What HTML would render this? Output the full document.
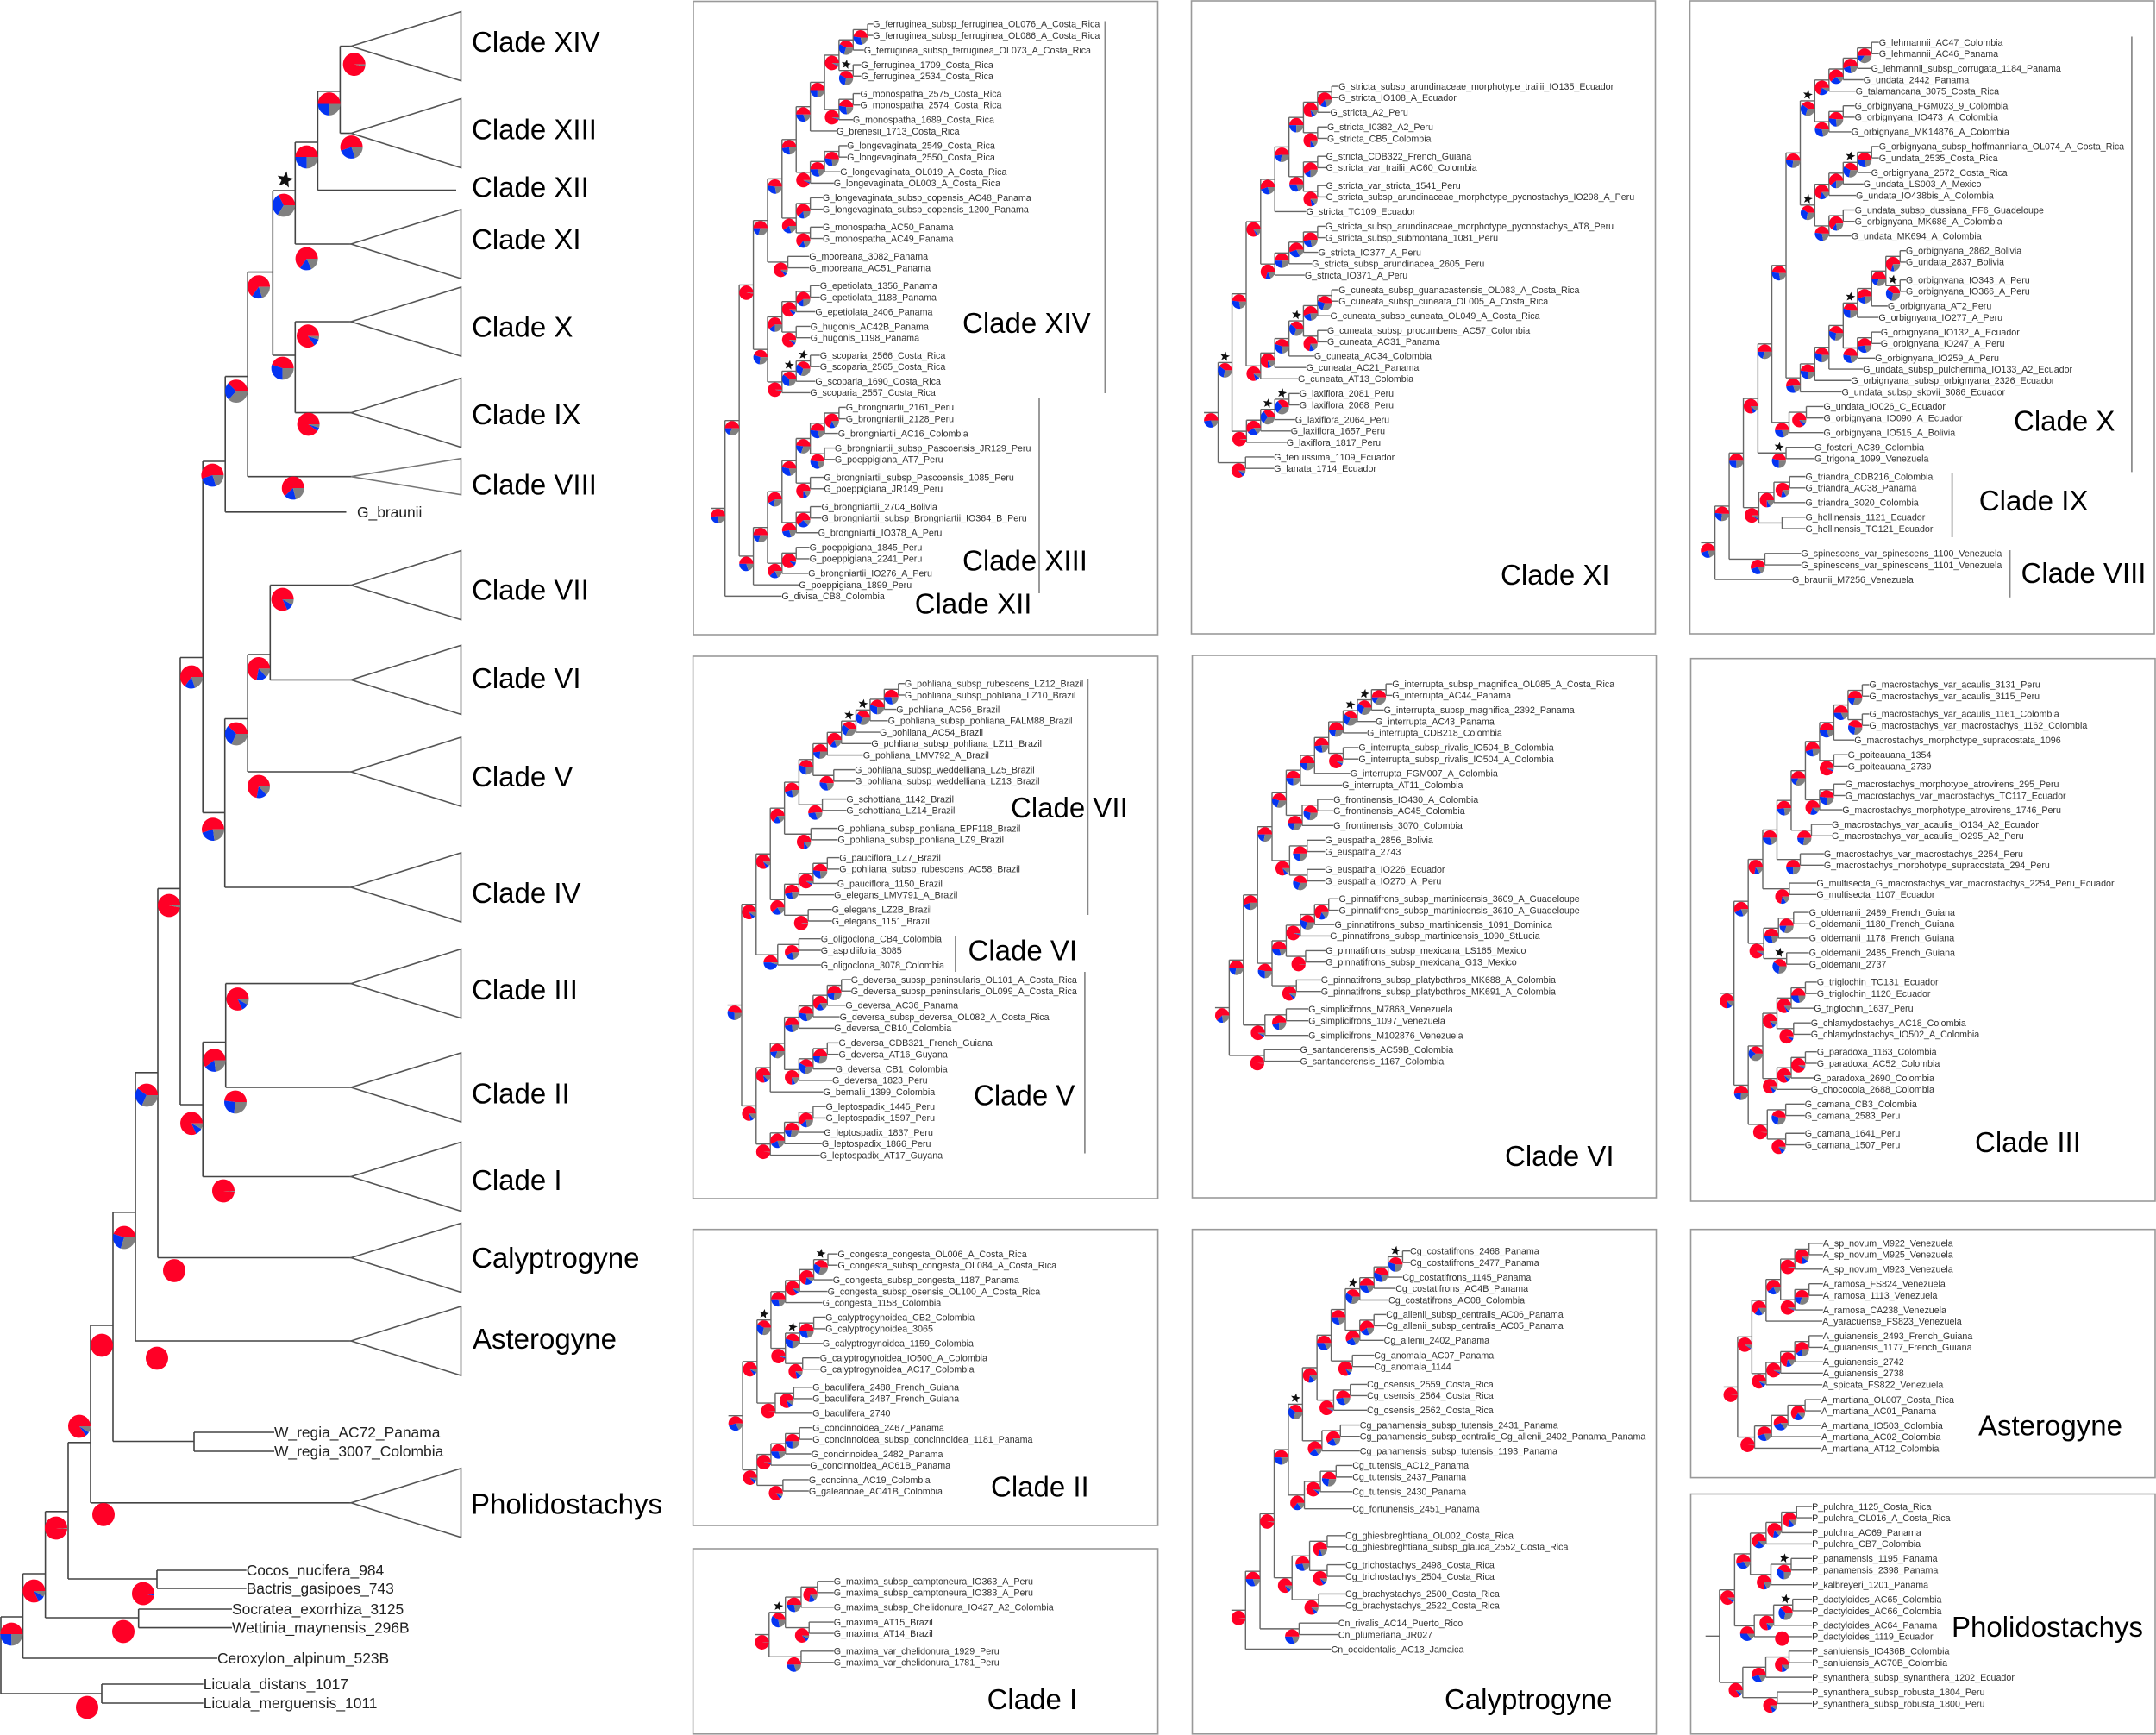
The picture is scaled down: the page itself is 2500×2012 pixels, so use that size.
<!DOCTYPE html>
<html lang="en">
<head>
<meta charset="utf-8">
<title>Geonoma phylogeny with clade detail panels</title>
<style>
html,body{margin:0;padding:0;background:#fff;}
svg{display:block;font-family:"Liberation Sans",sans-serif;}
.box{fill:none;stroke:#999;stroke-width:1.6;}
.bar{stroke:#888;stroke-width:1.7;}
.title{font-size:33px;fill:#000;}
</style>
</head>
<body>
<svg id="figure" xmlns="http://www.w3.org/2000/svg" width="2500" height="2012" viewBox="0 0 2500 2012">
<rect width="2500" height="2012" fill="#fff"/>
<g id="main-tree"></g>
<g>
<rect class="box" x="804" y="1.5" width="538.5" height="734.5"/>
<rect class="box" x="1381.5" y="1" width="538" height="734"/>
<rect class="box" x="1959.5" y="1" width="538.5" height="734"/>
<rect class="box" x="803.6" y="761" width="539" height="629"/>
<rect class="box" x="1382.5" y="760" width="538" height="629"/>
<rect class="box" x="1960.5" y="763.7" width="538.5" height="629.3"/>
<rect class="box" x="803.6" y="1425.7" width="539" height="343.3"/>
<rect class="box" x="803.6" y="1796" width="539" height="214.8"/>
<rect class="box" x="1382.5" y="1425.7" width="538" height="585.1"/>
<rect class="box" x="1960.5" y="1425.7" width="538.5" height="287.9"/>
<rect class="box" x="1960.5" y="1732.5" width="538.5" height="278.3"/>
</g>
<g>
<line class="bar" x1="1281.4" y1="24.5" x2="1281.4" y2="456"/>
<line class="bar" x1="1205" y1="461.5" x2="1205" y2="688"/>
<line class="bar" x1="2471.9" y1="42.5" x2="2471.9" y2="547.4"/>
<line class="bar" x1="2263.6" y1="548.8" x2="2263.6" y2="623"/>
<line class="bar" x1="2330.6" y1="638" x2="2330.6" y2="692.8"/>
<line class="bar" x1="1261.4" y1="787" x2="1261.4" y2="1061"/>
<line class="bar" x1="1107.9" y1="1086" x2="1107.9" y2="1127"/>
<line class="bar" x1="1257.9" y1="1127" x2="1257.9" y2="1337.5"/>
</g>
<g id="panels"></g>
<g>
<text class="title" x="1116" y="386">Clade XIV</text>
<text class="title" x="1116" y="661.6">Clade XIII</text>
<text class="title" x="1060.7" y="711.6">Clade XII</text>
<text class="title" x="1740" y="678">Clade XI</text>
<text class="title" x="2335" y="499.3">Clade X</text>
<text class="title" x="2294.8" y="592">Clade IX</text>
<text class="title" x="2343.5" y="675.8">Clade VIII</text>
<text class="title" x="1172" y="947.8">Clade VII</text>
<text class="title" x="1122.5" y="1113.6">Clade VI</text>
<text class="title" x="1129" y="1281.5">Clade V</text>
<text class="title" x="1745" y="1352">Clade VI</text>
<text class="title" x="2290" y="1336">Clade III</text>
<text class="title" x="1149" y="1735.5">Clade II</text>
<text class="title" x="1144.6" y="1982">Clade I</text>
<text class="title" x="1675" y="1982">Calyptrogyne</text>
<text class="title" x="2294" y="1664.5">Asterogyne</text>
<text class="title" x="2263" y="1898">Pholidostachys</text>
</g>
<g>
<text class="title" x="547" y="60">Clade XIV</text>
<text class="title" x="547" y="161.6">Clade XIII</text>
<text class="title" x="547" y="228.5">Clade XII</text>
<text class="title" x="547" y="289">Clade XI</text>
<text class="title" x="547" y="390.6">Clade X</text>
<text class="title" x="547" y="492">Clade IX</text>
<text class="title" x="547" y="573.7">Clade VIII</text>
<text class="title" x="547" y="695.5">Clade VII</text>
<text class="title" x="547" y="798">Clade VI</text>
<text class="title" x="547" y="912">Clade V</text>
<text class="title" x="547" y="1047">Clade IV</text>
<text class="title" x="547" y="1159">Clade III</text>
<text class="title" x="547" y="1279.5">Clade II</text>
<text class="title" x="547" y="1380">Clade I</text>
<text class="title" x="547" y="1470">Calyptrogyne</text>
<text class="title" x="548" y="1564">Asterogyne</text>
<text class="title" x="546" y="1755.5">Pholidostachys</text>
</g>
</svg>
<script>
/* Tree topology strings: NAME( opens a node, "*" is the next tip in reading order. Node arrays are in preorder (the order the names appear). */
const mainShape = "root( n1( n2( n3( n4( s( r( q( n( j( i( h( f( e( d( b(**) * ) * ) g(**) ) * ) * ) k( l( m(**) * ) * ) ) o( p(**) * ) ) * ) * ) wN(**) ) * ) coc(**) ) soc(**) ) * ) lic(**) )";
const mainNodeX = [1,26.5,52.6,79,105,131,157,183,209,235.2,261.2,287.2,316.3,342.3,368.4,394.4,342.3,260.7,287.2,313.3,235.2,261.7,225,182,160.7,118];
const mainNodeY = [1920,1875,1825,1752.8,1672.8,1537,1405.8,1243.8,1030.4,762.5,535,436.6,315.6,221,165,105.8,412,942.4,833.5,759,1281,1208.5,1671.5,1831,1876,1964];
const mainPieX = [0,13.3,39.3,65,92,118,144,170,196,222,246.4,274,300,329,355.6,381.6,327.6,247,274,300,222,248.5,0,166,143,101];
const mainPieY = [0,1895,1845,1772,1654,1560,1435,1270,1050,785,551,453.6,332.6,238,182,120.5,427,961.6,851,775.4,1302.7,1229.5,0,1848,1892,1980];
const mainRed = [0,50,82,99,85,100,45,40,97,65,55,38,65,33,50,50,45,55,38,72,82,60,0,97,100,100];
const mainBlue = [0,25,10,0,6,0,25,28,0,15,25,25,15,33,25,25,30,22,30,15,10,17,0,2,0,0];
const mainStars = [13];
const mainTipLabels = ["","","","","","","","G_braunii","","","","","","","","","","W_regia_AC72_Panama","W_regia_3007_Colombia","","Cocos_nucifera_984","Bactris_gasipoes_743","Socratea_exorrhiza_3125","Wettinia_maynensis_296B","Ceroxylon_alpinum_523B","Licuala_distans_1017","Licuala_merguensis_1011"];
const mainTipX = [407,407,529,407,407,407,407,401.5,407,407,407,407,407,407,407,407,407,318,318,407,285.7,285.7,269,269,252,235.7,235.7];
const mainTipY = [53.6,154.5,220.5,283,373,478.6,552.7,593.8,678.6,788.4,895,1029,1140.6,1261,1364.5,1458.5,1555,1661,1683,1742.8,1821,1842,1866,1887.6,1923,1953,1975];
const mainTipSpread = [40,40,0,40,40,40,21,0,40,40,40,40,40,40,40,40,40,0,0,40,0,0,0,0,0,0,0];
const mainTipPieX = [410.7,407.6,0,355.6,357,357.6,339.8,0,327.6,0,300,0,275.5,273,259,202,182,0,0,120,0,0,0,0,0,0,0];
const mainTipPieY = [74.6,170.5,0,300,389.7,492,566,0,695,0,912,0,1158.5,1278,1381,1473.5,1575,0,0,1756.4,0,0,0,0,0,0,0];
const mainTipRed = [97,55,0,65,85,90,62,0,82,0,72,0,82,48,99,100,100,0,0,100,0,0,0,0,0,0,0];
const mainTipBlue = [0,25,0,17,10,5,17,0,10,0,15,0,10,25,0,0,0,0,0,0,0,0,0,0,0,0,0];

/* Clade XIV-XII */
const xivShape = "root( A( B( C( D( E( F( G( H( I( J(**) * ) K(**) ) L( M(**) * ) ) * ) N( O( P(**) * ) * ) ) Q( R(**) S(**) ) ) T(**) ) U( V( W( X(**) * ) Y(**) ) Z( AA( AB(**) * ) * ) ) ) C2( c3( c4( c5( c6( c7( c8(**) * ) c9(**) ) c10(**) ) c11( c12(**) * ) ) c13( c14(**) * ) ) * ) ) * )";
const xivLabels = ["G_ferruginea_subsp_ferruginea_OL076_A_Costa_Rica","G_ferruginea_subsp_ferruginea_OL086_A_Costa_Rica","G_ferruginea_subsp_ferruginea_OL073_A_Costa_Rica","G_ferruginea_1709_Costa_Rica","G_ferruginea_2534_Costa_Rica","G_monospatha_2575_Costa_Rica","G_monospatha_2574_Costa_Rica","G_monospatha_1689_Costa_Rica","G_brenesii_1713_Costa_Rica","G_longevaginata_2549_Costa_Rica","G_longevaginata_2550_Costa_Rica","G_longevaginata_OL019_A_Costa_Rica","G_longevaginata_OL003_A_Costa_Rica","G_longevaginata_subsp_copensis_AC48_Panama","G_longevaginata_subsp_copensis_1200_Panama","G_monospatha_AC50_Panama","G_monospatha_AC49_Panama","G_mooreana_3082_Panama","G_mooreana_AC51_Panama","G_epetiolata_1356_Panama","G_epetiolata_1188_Panama","G_epetiolata_2406_Panama","G_hugonis_AC42B_Panama","G_hugonis_1198_Panama","G_scoparia_2566_Costa_Rica","G_scoparia_2565_Costa_Rica","G_scoparia_1690_Costa_Rica","G_scoparia_2557_Costa_Rica","G_brongniartii_2161_Peru","G_brongniartii_2128_Peru","G_brongniartii_AC16_Colombia","G_brongniartii_subsp_Pascoensis_JR129_Peru","G_poeppigiana_AT7_Peru","G_brongniartii_subsp_Pascoensis_1085_Peru","G_poeppigiana_JR149_Peru","G_brongniartii_2704_Bolivia","G_brongniartii_subsp_Brongniartii_IO364_B_Peru","G_brongniartii_IO378_A_Peru","G_poeppigiana_1845_Peru","G_poeppigiana_2241_Peru","G_brongniartii_IO276_A_Peru","G_poeppigiana_1899_Peru","G_divisa_CB8_Colombia"];
const xivTipX = [594,594,565,556,556,553,553,529,476,510,510,488,467,431,431,431,431,387,387,422,422,407,391,391,422,422,407,390,506,506,481,470,470,435,435,427,427,416,388,388,384,354,298];
const xivTipY = [59,87,123,159,187,230,258,294,322,358,386,422,450,486,514,558,586,630,658,702,730,766,802,830,873,901,937,965,1001,1029,1065,1101,1129,1173,1201,1245,1273,1309,1345,1373,1409,1437,1465];
const xivNodeX = [114,160,206,252,299,345,391,437,484,530,577,530,484,530,391,437,484,345,391,391,318,252,299,345,391,345,299,345,391,206,252,299,345,391,437,484,437,391,345,391,299,345];
const xivRed = [52,50,98,50,48,52,50,50,92,42,48,42,94,47,92,50,48,60,62,65,85,45,60,85,60,88,97,40,40,50,50,58,47,48,48,70,48,75,53,62,62,88];
const xivBlue = [25,18,0,20,30,25,30,25,2,28,30,30,2,30,3,30,28,20,15,15,6,28,15,8,15,5,1,35,30,30,20,15,32,22,32,12,32,10,27,25,20,8];
const xivStars = [11,27,28];

/* Clade XI */
const xiShape = "root( A( C( H( J( L( M( O( Q(**) * ) P(**) ) N( R(**) S(**) ) ) * ) K( T( U( V(**) * ) * ) * ) ) I( W( X( Y( Z( AB(**) * ) AA(**) ) * ) * ) * ) ) D( E( F( G(**) * ) * ) * ) ) B(**) )";
const xiLabels = ["G_stricta_subsp_arundinaceae_morphotype_trailii_IO135_Ecuador","G_stricta_IO108_A_Ecuador","G_stricta_A2_Peru","G_stricta_I0382_A2_Peru","G_stricta_CB5_Colombia","G_stricta_CDB322_French_Guiana","G_stricta_var_trailii_AC60_Colombia","G_stricta_var_stricta_1541_Peru","G_stricta_subsp_arundinaceae_morphotype_pycnostachys_IO298_A_Peru","G_stricta_TC109_Ecuador","G_stricta_subsp_arundinaceae_morphotype_pycnostachys_AT8_Peru","G_stricta_subsp_submontana_1081_Peru","G_stricta_IO377_A_Peru","G_stricta_subsp_arundinacea_2605_Peru","G_stricta_IO371_A_Peru","G_cuneata_subsp_guanacastensis_OL083_A_Costa_Rica","G_cuneata_subsp_cuneata_OL005_A_Costa_Rica","G_cuneata_subsp_cuneata_OL049_A_Costa_Rica","G_cuneata_subsp_procumbens_AC57_Colombia","G_cuneata_AC31_Panama","G_cuneata_AC34_Colombia","G_cuneata_AC21_Panama","G_cuneata_AT13_Colombia","G_laxiflora_2081_Peru","G_laxiflora_2068_Peru","G_laxiflora_2064_Peru","G_laxiflora_1657_Peru","G_laxiflora_1817_Peru","G_tenuissima_1109_Ecuador","G_lanata_1714_Ecuador"];
const xiTipX = [482,482,455,445,445,441,441,441,441,377,439,439,416,395,372,482,482,455,445,445,403,377,350,355,355,341,327,313,272,272];
const xiTipY = [212,240,276,312,340,384,412,456,484,520,556,584,620,648,676,712,740,776,812,840,875,903,931,967,995,1031,1059,1087,1123,1151];
const xiNodeX = [91,136,182,229,275,321,368,414,460,414,368,414,414,275,321,368,414,229,275,321,368,414,460,414,183,229,275,321,180];
const xiRed = [52,40,48,82,55,52,50,78,65,75,50,60,78,70,50,55,53,80,75,45,40,55,45,72,98,60,35,35,85];
const xiBlue = [28,32,30,5,25,20,25,8,15,10,30,15,10,12,25,28,25,10,8,32,30,22,25,12,0,25,30,30,8];
const xiStars = [1,20,26,27];

/* Clades X-VIII */
const xShape = "root( A( B( D( I( K( N( P( R( T( U( V(**) * ) * ) * ) S( W(**) * ) ) Q( X( Z( AA( AB(**) * ) * ) * ) Y( AC(**) * ) ) ) O( AD( AE( AF( AG( AI( AJ( AK(**) AL(**) ) * ) * ) AH( AM(**) * ) ) * ) * ) * ) ) L( M(**) * ) ) J(**) ) E( F( H(**) * ) G(**) ) ) C(**) ) * )";
const xLabels = ["G_lehmannii_AC47_Colombia","G_lehmannii_AC46_Panama","G_lehmannii_subsp_corrugata_1184_Panama","G_undata_2442_Panama","G_talamancana_3075_Costa_Rica","G_orbignyana_FGM023_9_Colombia","G_orbignyana_IO473_A_Colombia","G_orbignyana_MK14876_A_Colombia","G_orbignyana_subsp_hoffmanniana_OL074_A_Costa_Rica","G_undata_2535_Costa_Rica","G_orbignyana_2572_Costa_Rica","G_undata_LS003_A_Mexico","G_undata_IO438bis_A_Colombia","G_undata_subsp_dussiana_FF6_Guadeloupe","G_orbignyana_MK686_A_Colombia","G_undata_MK694_A_Colombia","G_orbignyana_2862_Bolivia","G_undata_2837_Bolivia","G_orbignyana_IO343_A_Peru","G_orbignyana_IO366_A_Peru","G_orbignyana_AT2_Peru","G_orbignyana_IO277_A_Peru","G_orbignyana_IO132_A_Ecuador","G_orbignyana_IO247_A_Peru","G_orbignyana_IO259_A_Peru","G_undata_subsp_pulcherrima_IO133_A2_Ecuador","G_orbignyana_subsp_orbignyana_2326_Ecuador","G_undata_subsp_skovii_3086_Ecuador","G_undata_IO026_C_Ecuador","G_orbignyana_IO090_A_Ecuador","G_orbignyana_IO515_A_Bolivia","G_fosteri_AC39_Colombia","G_trigona_1099_Venezuela","G_triandra_CDB216_Colombia","G_triandra_AC38_Panama","G_triandra_3020_Colombia","G_hollinensis_1121_Ecuador","G_hollinensis_TC121_Ecuador","G_spinescens_var_spinescens_1100_Venezuela","G_spinescens_var_spinescens_1101_Venezuela","G_braunii_M7256_Venezuela"];
const xTipX = [652,652,626,601,575,572,572,561,652,652,626,601,576,572,572,561,741,741,741,741,681,651,658,658,639,599,560,529,469,469,469,439,439,409,409,409,409,409,395,395,365];
const xTipY = [104,132,168,196,224,260,288,324,360,388,424,452,480,516,544,580,616,644,688,716,752,780,816,844,880,907,935,963,999,1027,1063,1099,1127,1171,1199,1235,1271,1299,1360,1388,1424];
const xNodeX = [110,157,204,252,298,345,392,440,487,534,581,628,487,534,440,487,534,581,628,487,534,392,440,487,534,581,628,675,722,722,581,628,355,412,345,255,305,357,332,275];
const xRed = [55,48,50,80,50,48,48,40,70,62,55,50,48,48,40,70,60,42,48,48,65,52,48,45,45,45,55,50,70,40,48,52,50,85,45,90,75,72,0,55];
const xBlue = [25,25,25,8,20,30,25,30,22,25,22,15,30,28,32,15,15,30,30,30,12,28,28,30,28,30,22,20,8,32,30,28,30,7,30,3,8,12,0,28];
const xStars = [7,14,17,25,29,34];

/* Clades VII-V */
const viiShape = "root( A( C( D( F( H( J( L( M( N( O( P(**) * ) * ) * ) * ) * ) K(**) ) I(**) ) G(**) ) E( Q( S( T(**) * ) * ) R(**) ) ) Dg( U(**) * ) ) B( V( X( Y( AA( AB( AC(**) * ) * ) * ) Z( AD( AE(**) * ) * ) ) * ) W( AF( AG( AH(**) * ) * ) * ) ) )";
const viiLabels = ["G_pohliana_subsp_rubescens_LZ12_Brazil","G_pohliana_subsp_pohliana_LZ10_Brazil","G_pohliana_AC56_Brazil","G_pohliana_subsp_pohliana_FALM88_Brazil","G_pohliana_AC54_Brazil","G_pohliana_subsp_pohliana_LZ11_Brazil","G_pohliana_LMV792_A_Brazil","G_pohliana_subsp_weddelliana_LZ5_Brazil","G_pohliana_subsp_weddelliana_LZ13_Brazil","G_schottiana_1142_Brazil","G_schottiana_LZ14_Brazil","G_pohliana_subsp_pohliana_EPF118_Brazil","G_pohliana_subsp_pohliana_LZ9_Brazil","G_pauciflora_LZ7_Brazil","G_pohliana_subsp_rubescens_AC58_Brazil","G_pauciflora_1150_Brazil","G_elegans_LMV791_A_Brazil","G_elegans_LZ2B_Brazil","G_elegans_1151_Brazil","G_oligoclona_CB4_Colombia","G_aspidiifolia_3085","G_oligoclona_3078_Colombia","G_deversa_subsp_peninsularis_OL101_A_Costa_Rica","G_deversa_subsp_peninsularis_OL099_A_Costa_Rica","G_deversa_AC36_Panama","G_deversa_subsp_deversa_OL082_A_Costa_Rica","G_deversa_CB10_Colombia","G_deversa_CDB321_French_Guiana","G_deversa_AT16_Guyana","G_deversa_CB1_Colombia","G_deversa_1823_Peru","G_bernalii_1399_Colombia","G_leptospadix_1445_Peru","G_leptospadix_1597_Peru","G_leptospadix_1837_Peru","G_leptospadix_1866_Peru","G_leptospadix_AT17_Guyana"];
const viiTipX = [697,697,670,643,616,589,562,535,535,508,508,480,480,485,485,478,468,461,461,425,425,425,523,523,505,486,468,483,483,472,462,433,441,441,435,428,422];
const viiTipY = [103,135,175,207,239,271,303,344,376,426,458,508,540,590,622,662,694,735,767,817,849,890,931,963,1003,1035,1067,1108,1140,1181,1213,1245,1286,1318,1358,1390,1422];
const viiNodeX = [168,215,261,307,354,400,446,492,539,585,631,677,467,430,393,307,354,400,446,384,285,354,215,261,307,354,400,446,492,354,400,446,261,307,354,400];
const viiRed = [45,82,82,65,55,45,52,65,40,40,45,50,48,52,75,62,55,90,48,97,50,58,78,78,52,52,48,65,52,75,42,50,99,58,50,62];
const viiBlue = [30,8,8,18,22,30,22,15,28,28,30,28,30,28,10,22,22,4,28,1,45,22,8,10,18,25,30,18,22,8,30,22,0,22,22,15];
const viiStars = [8,9];

/* Clade VI (second panel) */
const viShape = "root( A( C( F( H( L( O( P( Q( S( T( U(**) * ) * ) * ) R(**) ) * ) * ) M( N(**) * ) ) I( J(**) K(**) ) ) G( V( X( Z( AA(**) * ) * ) Y(**) ) W(**) ) ) D( E(**) * ) ) B(**) )";
const viLabels = ["G_interrupta_subsp_magnifica_OL085_A_Costa_Rica","G_interrupta_AC44_Panama","G_interrupta_subsp_magnifica_2392_Panama","G_interrupta_AC43_Panama","G_interrupta_CDB218_Colombia","G_interrupta_subsp_rivalis_IO504_B_Colombia","G_interrupta_subsp_rivalis_IO504_A_Colombia","G_interrupta_FGM007_A_Colombia","G_interrupta_AT11_Colombia","G_frontinensis_IO430_A_Colombia","G_frontinensis_AC45_Colombia","G_frontinensis_3070_Colombia","G_euspatha_2856_Bolivia","G_euspatha_2743","G_euspatha_IO226_Ecuador","G_euspatha_IO270_A_Peru","G_pinnatifrons_subsp_martinicensis_3609_A_Guadeloupe","G_pinnatifrons_subsp_martinicensis_3610_A_Guadeloupe","G_pinnatifrons_subsp_martinicensis_1091_Dominica","G_pinnatifrons_subsp_martinicensis_1090_StLucia","G_pinnatifrons_subsp_mexicana_LS165_Mexico","G_pinnatifrons_subsp_mexicana_G13_Mexico","G_pinnatifrons_subsp_platybothros_MK688_A_Colombia","G_pinnatifrons_subsp_platybothros_MK691_A_Colombia","G_simplicifrons_M7863_Venezuela","G_simplicifrons_1097_Venezuela","G_simplicifrons_M102876_Venezuela","G_santanderensis_AC59B_Colombia","G_santanderensis_1167_Colombia"];
const viTipX = [656,656,629,602,574,547,547,520,493,465,465,465,438,438,438,438,483,483,469,454,440,440,425,425,384,384,384,357,357];
const viTipY = [104,136,177,209,241,282,314,354,387,427,459,500,541,573,623,655,705,737,777,809,850,882,932,964,1013,1046,1087,1127,1159];
const viNodeX = [127,173,219,266,312,358,404,450,497,543,589,636,497,364,414,323,380,380,266,312,358,404,450,375,345,243,312,241];
const viRed = [62,50,55,50,45,50,50,52,50,40,40,50,90,50,45,80,50,45,47,52,95,45,70,99,85,90,55,99];
const viBlue = [15,22,18,22,25,25,22,25,22,28,28,15,4,20,28,8,25,25,28,28,2,25,15,0,6,4,20,0];
const viStars = [9,10];

/* Clade III */
const iiiShape = "root( A( C( E( G( I( K( M( O( P(**) Q(**) ) * ) N(**) ) L( R(**) * ) ) J(**) ) H(**) ) F(**) ) D( S( U(**) * ) T(**) ) ) B( V( X( Z( AB(**) * ) AA(**) ) Y( AC( AD(**) * ) * ) ) W( AE(**) AF(**) ) ) )";
const iiiLabels = ["G_macrostachys_var_acaulis_3131_Peru","G_macrostachys_var_acaulis_3115_Peru","G_macrostachys_var_acaulis_1161_Colombia","G_macrostachys_var_macrostachys_1162_Colombia","G_macrostachys_morphotype_supracostata_1096","G_poiteauana_1354","G_poiteauana_2739","G_macrostachys_morphotype_atrovirens_295_Peru","G_macrostachys_var_macrostachys_TC117_Ecuador","G_macrostachys_morphotype_atrovirens_1746_Peru","G_macrostachys_var_acaulis_IO134_A2_Ecuador","G_macrostachys_var_acaulis_IO295_A2_Peru","G_macrostachys_var_macrostachys_2254_Peru","G_macrostachys_morphotype_supracostata_294_Peru","G_multisecta_G_macrostachys_var_macrostachys_2254_Peru_Ecuador","G_multisecta_1107_Ecuador","G_oldemanii_2489_French_Guiana","G_oldemanii_1180_French_Guiana","G_oldemanii_1178_French_Guiana","G_oldemanii_2485_French_Guiana","G_oldemanii_2737","G_triglochin_TC131_Ecuador","G_triglochin_1120_Ecuador","G_triglochin_1637_Peru","G_chlamydostachys_AC18_Colombia","G_chlamydostachys_IO502_A_Colombia","G_paradoxa_1163_Colombia","G_paradoxa_AC52_Colombia","G_paradoxa_2690_Colombia","G_chococola_2688_Colombia","G_camana_CB3_Colombia","G_camana_2583_Peru","G_camana_1641_Peru","G_camana_1507_Peru"];
const iiiTipX = [620,620,620,620,571,549,549,541,541,531,496,496,470,470,446,446,421,421,421,421,421,447,447,437,427,427,447,447,437,427,407,407,407,407];
const iiiTipY = [106,138,188,220,261,302,334,384,416,456,497,529,579,611,661,693,743,775,815,856,888,938,970,1011,1052,1084,1133,1165,1206,1238,1279,1311,1361,1393];
const iiiNodeX = [173,220,268,315,362,409,456,503,550,597,597,503,456,503,429,392,356,271,320,370,347,220,268,315,362,409,370,315,362,409,283,344,344];
const iiiRed = [75,58,72,50,52,50,55,50,50,50,45,92,70,48,50,50,72,92,50,50,40,52,40,82,82,50,90,82,82,92,99,45,82];
const iiiBlue = [12,22,12,30,25,18,22,30,32,20,28,3,18,28,22,25,12,2,28,20,33,22,22,8,5,28,6,8,8,3,0,28,10];
const iiiStars = [20];

/* Clade II */
const iiShape = "root( A( C( F( H( I( J(**) * ) * ) * ) G( K( M(**) * ) L(**) ) ) D( E(**) * ) ) B( N( P( Q(**) * ) * ) O(**) ) )";
const iiLabels = ["G_congesta_congesta_OL006_A_Costa_Rica","G_congesta_subsp_congesta_OL084_A_Costa_Rica","G_congesta_subsp_congesta_1187_Panama","G_congesta_subsp_osensis_OL100_A_Costa_Rica","G_congesta_1158_Colombia","G_calyptrogynoidea_CB2_Colombia","G_calyptrogynoidea_3065","G_calyptrogynoidea_1159_Colombia","G_calyptrogynoidea_IO500_A_Colombia","G_calyptrogynoidea_AC17_Colombia","G_baculifera_2488_French_Guiana","G_baculifera_2487_French_Guiana","G_baculifera_2740","G_concinnoidea_2467_Panama","G_concinnoidea_subsp_concinnoidea_1181_Panama","G_concinnoidea_2482_Panama","G_concinnoidea_AC61B_Panama","G_concinna_AC19_Colombia","G_galeanoae_AC41B_Colombia"];
const iiTipX = [480,480,464,447,430,440,440,431,422,422,398,398,398,398,398,394,390,386,386];
const iiTipY = [115,149,193,228,262,306,341,385,429,463,518,552,596,640,675,719,753,797,831];
const iiNodeX = [171,218,263,310,356,402,448,310,356,402,366,277,337,218,263,310,356,302];
const iiRed = [55,85,42,50,85,72,42,95,45,50,78,99,80,85,95,50,50,85];
const iiBlue = [28,8,30,28,7,18,28,2,30,28,12,0,10,8,2,30,25,7];
const iiStars = [2,6,8];

/* Clade I */
const iShape = "root( A( C( E(**) * ) D(**) ) B(**) )";
const iLabels = ["G_maxima_subsp_camptoneura_IO363_A_Peru","G_maxima_subsp_camptoneura_IO383_A_Peru","G_maxima_subsp_Chelidonura_IO427_A2_Colombia","G_maxima_AT15_Brazil","G_maxima_AT14_Brazil","G_maxima_var_chelidonura_1929_Peru","G_maxima_var_chelidonura_1781_Peru"];
const iTipX = [467,467,467,467,467,467,467];
const iTipY = [1104,1138,1182,1227,1261,1315,1349];
const iNodeX = [257,310,361,414,387,361];
const iRed = [99,40,50,72,85,50];
const iBlue = [0,38,28,15,8,30];
const iStars = [1];

/* Calyptrogyne */
const calShape = "root( A( B( D( F( H( J( L( N( P( Q( R(**) * ) * ) * ) O( S(**) * ) ) M(**) ) K( T(**) * ) ) I( U(**) * ) ) G( V( W(**) * ) * ) ) E( X( Z(**) AA(**) ) Y(**) ) ) C(**) ) * )";
const calLabels = ["Cg_costatifrons_2468_Panama","Cg_costatifrons_2477_Panama","Cg_costatifrons_1145_Panama","Cg_costatifrons_AC4B_Panama","Cg_costatifrons_AC08_Colombia","Cg_allenii_subsp_centralis_AC06_Panama","Cg_allenii_subsp_centralis_AC05_Panama","Cg_allenii_2402_Panama","Cg_anomala_AC07_Panama","Cg_anomala_1144","Cg_osensis_2559_Costa_Rica","Cg_osensis_2564_Costa_Rica","Cg_osensis_2562_Costa_Rica","Cg_panamensis_subsp_tutensis_2431_Panama","Cg_panamensis_subsp_centralis_Cg_allenii_2402_Panama_Panama","Cg_panamensis_subsp_tutensis_1193_Panama","Cg_tutensis_AC12_Panama","Cg_tutensis_2437_Panama","Cg_tutensis_2430_Panama","Cg_fortunensis_2451_Panama","Cg_ghiesbreghtiana_OL002_Costa_Rica","Cg_ghiesbreghtiana_subsp_glauca_2552_Costa_Rica","Cg_trichostachys_2498_Costa_Rica","Cg_trichostachys_2504_Costa_Rica","Cg_brachystachys_2500_Costa_Rica","Cg_brachystachys_2522_Costa_Rica","Cn_rivalis_AC14_Puerto_Rico","Cn_plumeriana_JR027","Cn_occidentalis_AC13_Jamaica"];
const calTipX = [714,714,690,667,644,636,636,629,597,597,574,574,574,551,551,551,527,527,527,527,504,504,504,504,504,504,481,481,458];
const calTipY = [106,141,185,219,254,298,332,376,421,455,509,543,587,632,666,710,754,789,833,885,966,1000,1054,1089,1142,1177,1230,1265,1309];
const calNodeX = [180,227,273,319,365,412,458,504,551,597,643,690,551,597,527,466,520,428,488,371,423,474,331,388,445,445,417,354];
const calRed = [99,50,98,50,40,72,50,50,42,50,45,45,58,60,82,92,52,62,60,65,88,48,82,52,70,82,82,50];
const calBlue = [0,30,0,28,30,15,33,28,30,30,33,28,25,20,8,2,28,22,22,20,6,25,8,28,10,8,8,30];
const calStars = [4,8,11];

/* Asterogyne */
const astShape = "root( A( C( E( F( H(**) * ) G( I(**) * ) ) * ) D( J( K( L(**) * ) * ) * ) ) B( M( N( O(**) * ) * ) * ) )";
const astLabels = ["A_sp_novum_M922_Venezuela","A_sp_novum_M925_Venezuela","A_sp_novum_M923_Venezuela","A_ramosa_FS824_Venezuela","A_ramosa_1113_Venezuela","A_ramosa_CA238_Venezuela","A_yaracuense_FS823_Venezuela","A_guianensis_2493_French_Guiana","A_guianensis_1177_French_Guiana","A_guianensis_2742","A_guianensis_2738","A_spicata_FS822_Venezuela","A_martiana_OL007_Costa_Rica","A_martiana_AC01_Panama","A_martiana_IO503_Colombia","A_martiana_AC02_Colombia","A_martiana_AT12_Colombia"];
const astTipX = [467,467,467,467,467,467,465,467,467,467,467,465,462,462,462,462,462];
const astTipY = [83,117,161,205,240,284,318,362,397,441,475,510,555,589,633,667,702];
const astNodeX = [185,232,279,327,374,421,374,421,279,327,374,421,241,297,351,408];
const astRed = [99,90,65,60,97,75,93,50,85,92,72,60,99,55,55,65];
const astBlue = [0,2,18,22,1,15,2,20,8,3,12,15,0,25,30,22];
const astStars = [];

/* Pholidostachys */
const phoShape = "root( A( C( E( G( H(**) * ) * ) F( I(**) * ) ) D( J( K(**) * ) * ) ) B( L( N(**) * ) M(**) ) )";
const phoLabels = ["P_pulchra_1125_Costa_Rica","P_pulchra_OL016_A_Costa_Rica","P_pulchra_AC69_Panama","P_pulchra_CB7_Colombia","P_panamensis_1195_Panama","P_panamensis_2398_Panama","P_kalbreyeri_1201_Panama","P_dactyloides_AC65_Colombia","P_dactyloides_AC66_Colombia","P_dactyloides_AC64_Panama","P_dactyloides_1119_Ecuador","P_sanluiensis_IO436B_Colombia","P_sanluiensis_AC70B_Colombia","P_synanthera_subsp_synanthera_1202_Ecuador","P_synanthera_subsp_robusta_1804_Peru","P_synanthera_subsp_robusta_1800_Peru"];
const phoTipX = [431,431,431,431,431,431,431,431,431,431,431,431,431,431,431,431];
const phoTipY = [878,912,957,991,1035,1070,1114,1158,1193,1237,1271,1315,1350,1394,1438,1473];
const phoNodeX = [125,175,227,279,330,380,295,362,240,304,367,202,278,355,316];
const phoRed = [0,88,55,65,72,72,75,42,50,78,38,85,55,75,80];
const phoBlue = [0,5,30,22,15,15,8,33,35,10,33,7,27,12,10];
const phoStars = [7,10];

const SVGNS = "http://www.w3.org/2000/svg";
const PIE_RED = "#ff0026";
const PIE_BLUE = "#0535f2";
const PIE_GRAY = "#808080";

function make(tag, parent, attrs){
  const el = document.createElementNS(SVGNS, tag);
  for (const k in attrs) el.setAttribute(k, attrs[k]);
  parent.appendChild(el);
  return el;
}

function parseShape(shape){
  let pos = shape.indexOf("("), tip = 0, node = 0;
  function parse(){
    pos++;
    const n = {id: node++, kids: []};
    while (pos < shape.length && shape[pos] !== ")") {
      if (shape[pos] === "(") n.kids.push(parse());
      else if (shape[pos] === "*") { pos++; n.kids.push({tip: tip++}); }
      else pos++;
    }
    pos++;
    return n;
  }
  return parse();
}

function drawLine(parent, x1, y1, x2, y2, color, width){
  const el = make("line", parent, {x1: x1, y1: y1, x2: x2, y2: y2, stroke: color, "stroke-width": width});
  
  
  return el;
}

function pieWedge(parent, cx, cy, rx, ry, from, to, color){
  const a0 = from / 100 * 2 * Math.PI;
  const a1 = to / 100 * 2 * Math.PI;
  const x0 = cx + rx * Math.cos(a0), y0 = cy - ry * Math.sin(a0);
  const x1 = cx + rx * Math.cos(a1), y1 = cy - ry * Math.sin(a1);
  const large = (to - from) > 50 ? 1 : 0;
  const d = "M" + cx + " " + cy + "L" + x0 + " " + y0 + "A" + rx + " " + ry + " 0 " + large + " 0 " + x1 + " " + y1 + "Z";
  return make("path", parent, {d: d, fill: color});
}

function drawPie(parent, cx, cy, rx, ry, red, blue){
  const g = make("g", parent, {});
  
  
  if (red >= 99.7) {
    make("ellipse", g, {cx: cx, cy: cy, rx: rx, ry: ry, fill: PIE_RED});
    return;
  }
  pieWedge(g, cx, cy, rx, ry, 0, red, PIE_RED);
  if (blue > 0) pieWedge(g, cx, cy, rx, ry, red, red + blue, PIE_BLUE);
  if (red + blue < 100) pieWedge(g, cx, cy, rx, ry, red + blue, 99.99, PIE_GRAY);
}

function drawStar(parent, cx, cy, R){
  const pts = [];
  for (let i = 0; i < 10; i++) {
    const r = i % 2 ? R * 0.42 : R;
    const a = -Math.PI / 2 + i * Math.PI / 5 + 0.18;
    pts.push((cx + r * Math.cos(a)).toFixed(2) + "," + (cy + r * Math.sin(a)).toFixed(2));
  }
  const el = make("polygon", parent, {points: pts.join(" "), fill: "#111"});
  
  
}

function drawLabel(parent, x, y, str, size, color){
  const el = make("text", parent, {x: x, y: y, "font-size": size, fill: color});
  
  
  el.textContent = str;
}

/* Detail panel: tree units map to the figure through linear axis functions. */
function drawPanel(name, ox, oy, sx, sy, shape, labels, tipX, tipY, nodeX, red, blue, stars){
  const xAxis = function(v){ return ox + v / sx; };
  const yAxis = function(v){ return oy + v / sy; };
  const group = make("g", document.getElementById("panels"), {});
  
  
  const lines = make("g", group, {});
  const marks = make("g", group, {});
  const text = make("g", group, {});
  const RX = 8.2, RY = 8.4, LINE = "#666", W = 1.4;
  const root = parseShape(shape);
  function layout(n){
    if (n.tip !== undefined) { n.x = xAxis(tipX[n.tip]); n.y = yAxis(tipY[n.tip]); return; }
    n.kids.forEach(layout);
    n.x = xAxis(nodeX[n.id]);
    n.y = (n.kids[0].y + n.kids[n.kids.length - 1].y) / 2;
  }
  function draw(n){
    if (n.tip !== undefined) {
      drawLabel(text, n.x, n.y + 3.8, labels[n.tip], 10.7, "#333");
      return;
    }
    drawLine(lines, n.x, n.kids[0].y, n.x, n.kids[n.kids.length - 1].y, LINE, W);
    n.kids.forEach(function(k){
      drawLine(lines, n.x, k.y, k.x, k.y, LINE, W);
      draw(k);
    });
    if (red[n.id] > 0) drawPie(marks, n.x - RX, n.y + RY + 0.6, RX, RY, red[n.id], blue[n.id]);
    if (stars.indexOf(n.id) >= 0) drawStar(marks, n.x - RX, n.y - 7, 5.8);
  }
  layout(root);
  drawLine(lines, root.x - 46 / sx, root.y, root.x, root.y, LINE, W);
  draw(root);
  return {marks: marks, xAxis: xAxis, yAxis: yAxis, RX: RX, RY: RY};
}

function drawMain(){
  const group = document.getElementById("main-tree");
  const lines = make("g", group, {});
  const marks = make("g", group, {});
  const text = make("g", group, {});
  const LINE = "#444", W = 1.6, BASE_X = 534.5;
  const root = parseShape(mainShape);
  function draw(n){
    if (n.tip !== undefined) return;
    const ys = n.kids.map(function(k){ return k.tip !== undefined ? mainTipY[k.tip] : mainNodeY[k.id]; });
    const x = mainNodeX[n.id];
    drawLine(lines, x, Math.min.apply(null, ys), x, Math.max.apply(null, ys), LINE, W);
    n.kids.forEach(function(k, i){
      const kx = k.tip !== undefined ? mainTipX[k.tip] : mainNodeX[k.id];
      drawLine(lines, x, ys[i], kx, ys[i], LINE, W);
      draw(k);
    });
    if (mainRed[n.id] > 0) drawPie(marks, mainPieX[n.id], mainPieY[n.id], 13, 13.4, mainRed[n.id], mainBlue[n.id]);
    if (mainStars.indexOf(n.id) >= 0) drawStar(marks, mainPieX[n.id] + 1.6, mainPieY[n.id] - 29.5, 10);
  }
  draw(root);
  mainTipLabels.forEach(function(label, i){
    const x = mainTipX[i], y = mainTipY[i], h = mainTipSpread[i];
    if (h > 0) {
      const tri = make("polygon", lines, {
        points: x + "," + y + " " + BASE_X + "," + (y - h) + " " + BASE_X + "," + (y + h),
        fill: "none", stroke: h < 30 ? "#777" : "#555", "stroke-width": 1.6
      });
      
      
    }
    if (mainTipRed[i] > 0) drawPie(marks, mainTipPieX[i], mainTipPieY[i], 13, 13.4, mainTipRed[i], mainTipBlue[i]);
    if (label) {
      const gap = label === "G_braunii" ? 12.5 : 0;
      drawLabel(text, x + gap, y + 6, label, 17.4, "#222");
    }
  });
}

drawMain();
drawPanel("tree-clade-xiv-xiii-xii", 800, 0, 2.8, 2.119, xivShape, xivLabels, xivTipX, xivTipY, xivNodeX, xivRed, xivBlue, xivStars);
drawPanel("tree-clade-xi", 1380, 0, 2.8, 2.119, xiShape, xiLabels, xiTipX, xiTipY, xiNodeX, xiRed, xiBlue, xiStars);
drawPanel("tree-clade-x-ix-viii", 1950, 0, 2.851, 2.119, xShape, xLabels, xTipX, xTipY, xNodeX, xRed, xBlue, xStars);
drawPanel("tree-clade-vii-vi-v", 800, 750, 2.8, 2.412, viiShape, viiLabels, viiTipX, viiTipY, viiNodeX, viiRed, viiBlue, viiStars);
drawPanel("tree-clade-vi", 1380, 750, 2.8, 2.412, viShape, viLabels, viTipX, viTipY, viNodeX, viRed, viBlue, viStars);
drawPanel("tree-clade-iii", 1950, 750, 2.851, 2.412, iiiShape, iiiLabels, iiiTipX, iiiTipY, iiiNodeX, iiiRed, iiiBlue, iiiStars);
drawPanel("tree-clade-ii", 800, 1410, 2.8, 2.605, iiShape, iiLabels, iiTipX, iiTipY, iiNodeX, iiRed, iiBlue, iiStars);
drawPanel("tree-clade-i", 800, 1410, 2.8, 2.605, iShape, iLabels, iTipX, iTipY, iNodeX, iRed, iBlue, iStars);
drawPanel("tree-calyptrogyne", 1380, 1410, 2.8, 2.605, calShape, calLabels, calTipX, calTipY, calNodeX, calRed, calBlue, calStars);
drawPanel("tree-asterogyne", 1950, 1410, 2.851, 2.605, astShape, astLabels, astTipX, astTipY, astNodeX, astRed, astBlue, astStars);
const phoPanel = drawPanel("tree-pholidostachys", 1950, 1410, 2.851, 2.605, phoShape, phoLabels, phoTipX, phoTipY, phoNodeX, phoRed, phoBlue, phoStars);
drawPie(phoPanel.marks, phoPanel.xAxis(332), phoPanel.yAxis(1277), phoPanel.RX, phoPanel.RY, 100, 0);
</script>
</body>
</html>
